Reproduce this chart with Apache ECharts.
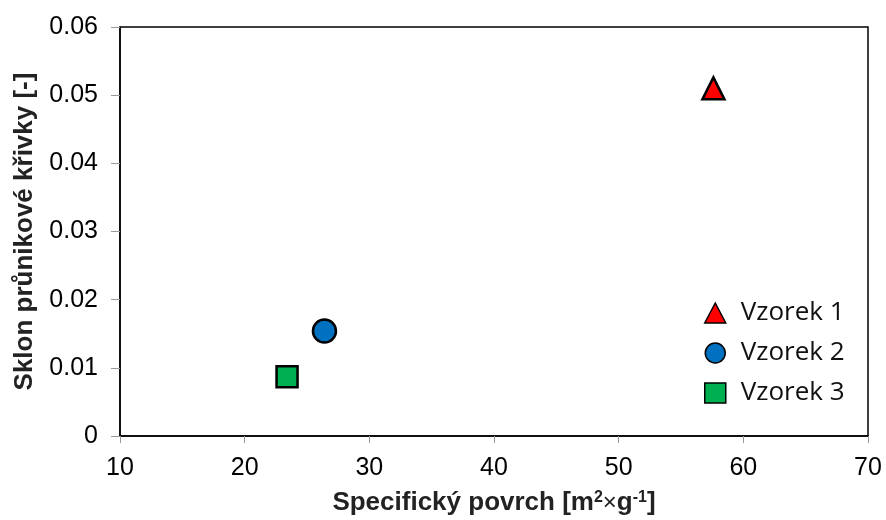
<!DOCTYPE html>
<html><head><meta charset="utf-8">
<script src="https://cdn.jsdelivr.net/npm/echarts@6/dist/echarts.min.js"></script>
<style>html,body{margin:0;padding:0;background:#fff}#c{width:886px;height:520px}</style>
</head><body><div id="c"></div>
<script>
const seriesNames = ['Vzorek 1', 'Vzorek 2', 'Vzorek 3'];
const xValues = [57.6, 26.4, 23.4];
const yValues = [0.051, 0.0154, 0.0087];
const symbols = ['triangle', 'circle', 'rect'];
const colors = ['#ff0000', '#0070c0', '#00b050'];
const xTicks = [10, 20, 30, 40, 50, 60, 70];
const yTicks = [0, 0.01, 0.02, 0.03, 0.04, 0.05, 0.06];

const chart = echarts.init(document.getElementById('c'), null, {renderer: 'canvas'});
const font = 'Liberation Sans, Arial, sans-serif';
chart.setOption({
  animation: false,
  grid: {left: 120, right: 18, top: 27, bottom: 84, containLabel: false, outerBoundsMode: 'none',
         show: true, borderColor: '#000', borderWidth: 1.5},
  legend: {
    orient: 'vertical', left: 699, top: 295, itemGap: 14, itemWidth: 21, itemHeight: 20,
    textStyle: {fontFamily: 'Open Sans, sans-serif', fontSize: 26, lineHeight: 26, color: '#111', padding: [0,0,0,10]},
    data: seriesNames.map((n, i) => ({name: n, icon: symbols[i],
      itemStyle: {color: colors[i], borderColor: '#000', borderWidth: 1.5, opacity: 1}}))
  },
  xAxis: {
    type: 'value', min: xTicks[0], max: xTicks[xTicks.length-1], interval: 10,
    axisLine: {onZero: false, lineStyle: {color: '#000', width: 1.5}},
    axisTick: {show: true, inside: false, length: 7, lineStyle: {color: '#999'}},
    splitLine: {show: false},
    axisLabel: {fontFamily: font, fontSize: 25, color: '#000', margin: 20},
    name: '{b|Specifický povrch [m}{s|2}{x|×}{b|g}{s|-1}{b|]}', nameLocation: 'middle', nameGap: 54,
    nameTextStyle: {rich: {
      b: {fontFamily: font, fontSize: 26, fontWeight: 'bold', color: '#222'},
      x: {fontFamily: font, fontSize: 24, color: '#222'},
      s: {fontFamily: font, fontSize: 16, fontWeight: 'bold', color: '#222', verticalAlign: 'top', padding: [0,0,10,0]}
    }}
  },
  yAxis: {
    type: 'value', min: yTicks[0], max: yTicks[yTicks.length-1], interval: 0.01,
    axisLine: {show: true, lineStyle: {color: '#000', width: 1.5}},
    axisTick: {show: true, inside: false, length: 9, lineStyle: {color: '#999'}},
    splitLine: {show: false},
    axisLabel: {fontFamily: font, fontSize: 25, color: '#000', margin: 22,
      formatter: v => v === 0 ? '0' : v.toFixed(2)},
    name: 'Sklon průnikové křivky [-]', nameLocation: 'middle', nameGap: 82,
    nameTextStyle: {fontFamily: font, fontSize: 26, fontWeight: 'bold', color: '#222'}
  },
  series: seriesNames.map((n, i) => ({
    name: n, type: 'scatter', symbol: symbols[i], symbolSize: symbols[i] === 'triangle' ? 22 : (symbols[i] === 'circle' ? 23 : 21),
    itemStyle: {color: colors[i], borderColor: '#000', borderWidth: 2.5, opacity: 1},
    data: [[xValues[i], yValues[i]]]
  }))
});
</script></body></html>
